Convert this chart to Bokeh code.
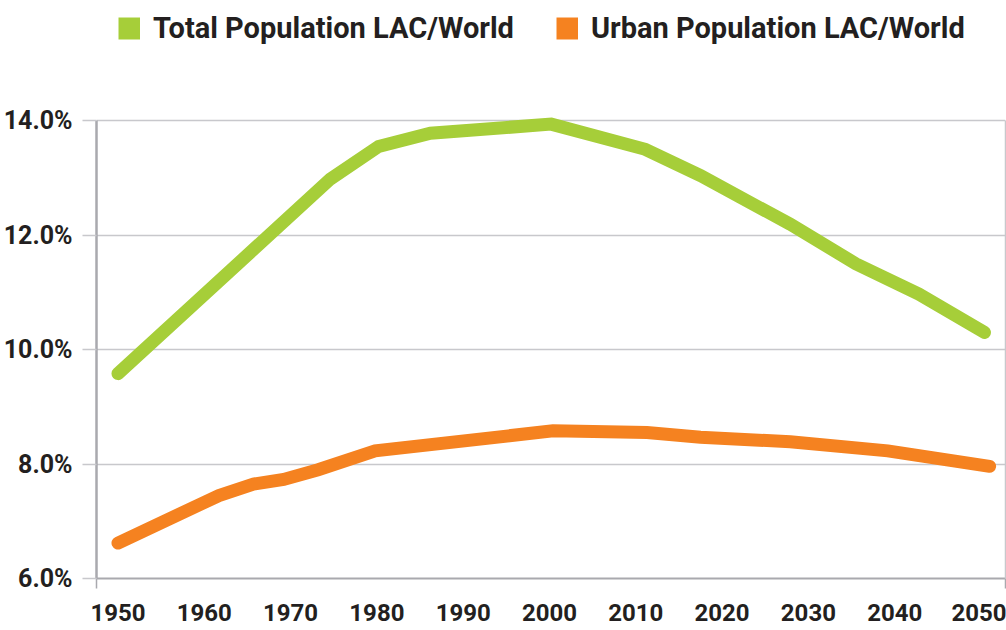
from bokeh.plotting import figure
from bokeh.models import (LinearAxis, FixedTicker, PrintfTickFormatter, Grid,
                          Legend, LegendItem, Range1d)
from bokeh.embed import file_html
from bokeh.resources import INLINE

# ---- data ----
series_names = ["Total Population LAC/World", "Urban Population LAC/World"]
total_years = [1950, 1974.6, 1980.2, 1986.2, 2000.2, 2011.1, 2017.5, 2027.9, 2035.5, 2042.8, 2050.4]
total_share = [9.58, 12.98, 13.55, 13.78, 13.94, 13.50, 13.04, 12.19, 11.50, 10.97, 10.30]
urban_years = [1950, 1961.7, 1965.7, 1969.2, 1973.2, 1979.8, 2000.4, 2011.3, 2017.5, 2027.9, 2039.2, 2051.0]
urban_share = [6.62, 7.45, 7.65, 7.73, 7.90, 8.23, 8.58, 8.55, 8.47, 8.39, 8.23, 7.96]
x_tick_years = [1950, 1960, 1970, 1980, 1990, 2000, 2010, 2020, 2030, 2040, 2050]
y_ticks = [6, 8, 10, 12, 14]

GREEN = "#A6CE39"
ORANGE = "#F58220"
TEXT = "#231F20"
AXIS = "#A9A9AE"
GRID = "#C8C8CC"
FONT = "Roboto"

x_start, x_end = 1947.51, 2052.84
y_start, y_end = 6.0, 16.10   # extra room above 14% holds the legend

p = figure(width=1006, height=630,
           x_range=Range1d(x_start, x_end), y_range=Range1d(y_start, y_end),
           output_backend="svg", toolbar_location=None,
           x_axis_location=None, y_axis_location=None,
           min_border_left=96, min_border_right=1,
           min_border_top=0, min_border_bottom=52,
           outline_line_color=None,
           background_fill_color="white", border_fill_color="white")

p.center = [r for r in p.center if not isinstance(r, Grid)]

yaxis = LinearAxis(ticker=FixedTicker(ticks=y_ticks),
                   formatter=PrintfTickFormatter(format="%.1f%%"),
                   bounds=(y_ticks[0], y_ticks[-1]),
                   axis_line_color=AXIS, axis_line_width=2.5,
                   major_tick_out=14, major_tick_in=0,
                   major_tick_line_color=GRID, major_tick_line_width=1.5,
                   minor_tick_line_color=None,
                   major_label_standoff=10,
                   major_label_text_font=FONT,
                   major_label_text_font_size="25px",
                   major_label_text_font_style="bold",
                   major_label_text_color=TEXT)
p.add_layout(yaxis, "left")
p.add_layout(Grid(dimension=1, ticker=yaxis.ticker,
                  grid_line_color=GRID, grid_line_width=1.5))

# right border of the plot area
raxis = LinearAxis(ticker=FixedTicker(ticks=[]),
                   bounds=(y_ticks[0], y_ticks[-1]),
                   axis_line_color=GRID, axis_line_width=1.5,
                   major_tick_out=0, major_tick_in=0,
                   minor_tick_line_color=None, major_label_standoff=0,
                   major_label_text_font_size="1px")
p.add_layout(raxis, "right")

# x axis: labels at decades, small end ticks at the plot edges
xaxis = LinearAxis(ticker=FixedTicker(ticks=x_tick_years, minor_ticks=[x_start, x_end]),
                   axis_line_color=AXIS, axis_line_width=2,
                   major_tick_out=0, major_tick_in=0,
                   major_tick_line_color=None,
                   minor_tick_out=10, minor_tick_in=0,
                   minor_tick_line_color=AXIS, minor_tick_line_width=1.5,
                   major_label_standoff=15,
                   major_label_text_font=FONT,
                   major_label_text_font_size="24px",
                   major_label_text_font_style="bold",
                   major_label_text_color=TEXT)
p.add_layout(xaxis, "below")

p.line(total_years, total_share, line_width=13, line_color=GREEN,
       line_cap="round", line_join="miter")
p.line(urban_years, urban_share, line_width=13, line_color=ORANGE,
       line_cap="round", line_join="miter")

# legend swatches (a single NaN point: nothing drawn, only used for the legend)
sw1 = p.line(x=[float("nan")], y=[float("nan")], line_width=22,
             line_color=GREEN, line_cap="butt")
sw2 = p.line(x=[float("nan")], y=[float("nan")], line_width=22,
             line_color=ORANGE, line_cap="butt")

legend = Legend(items=[LegendItem(label=series_names[0], renderers=[sw1]),
                       LegendItem(label=series_names[1], renderers=[sw2])],
                orientation="horizontal", location=(22, 533),
                glyph_width=22, glyph_height=34, label_standoff=13,
                spacing=42, padding=0, margin=0,
                border_line_color=None, background_fill_alpha=0,
                label_text_font=FONT, label_text_font_size="29px",
                label_text_font_style="bold", label_text_color=TEXT,
                label_text_baseline="middle")
p.add_layout(legend)

open("out.html", "w").write(file_html(p, INLINE))
